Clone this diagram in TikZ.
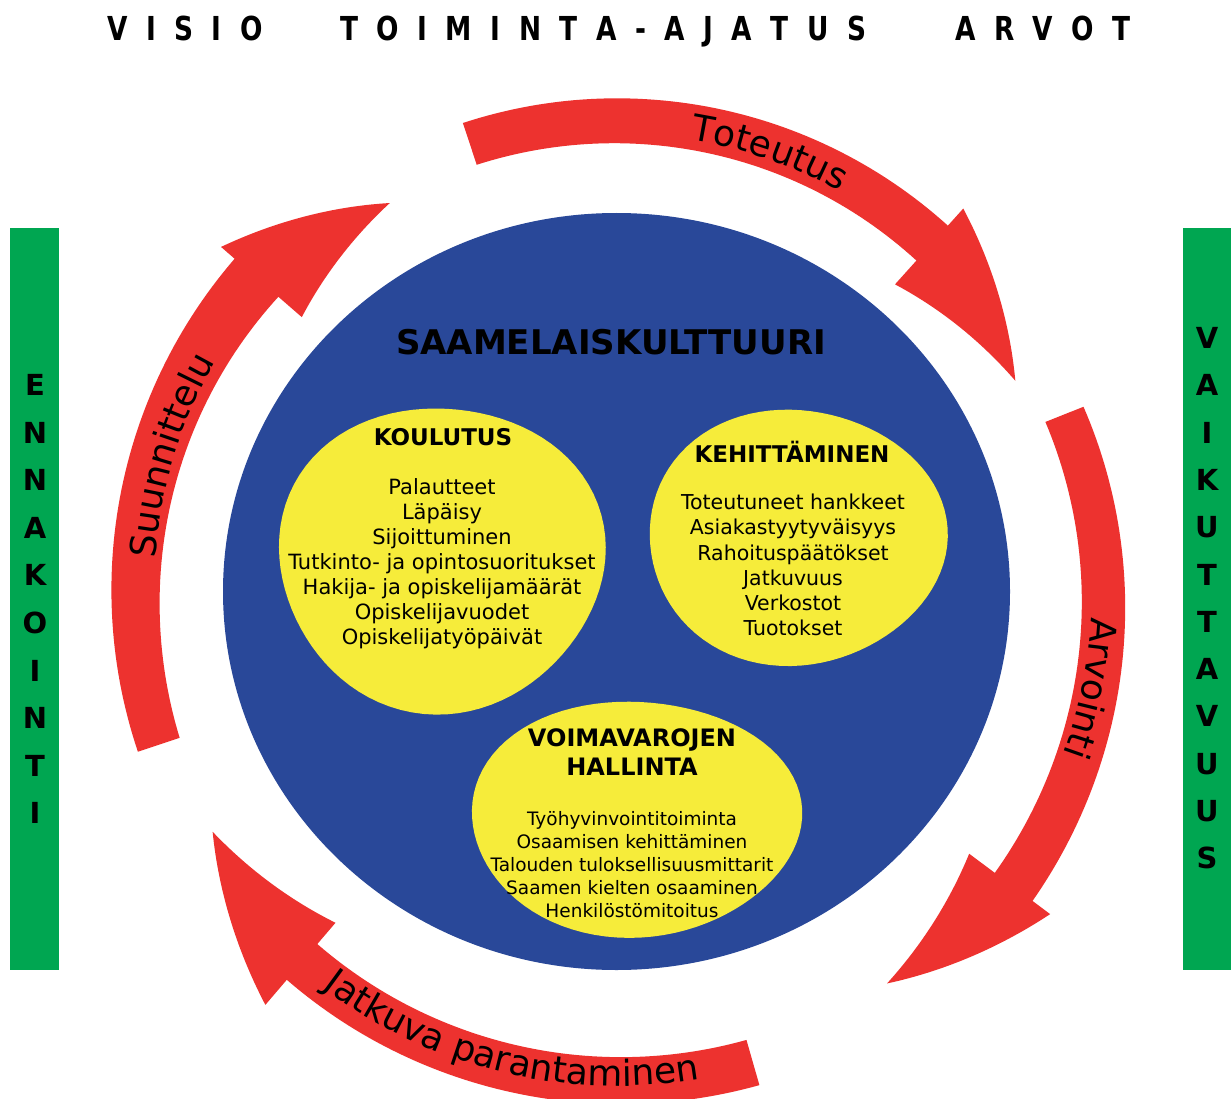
\documentclass[tikz,border=0pt]{standalone}
\usepackage{fontspec}
\setmainfont{DejaVu Sans}
\newfontfamily\narrowfont[FakeStretch=0.8]{DejaVu Sans}
\usetikzlibrary{decorations.text}

\definecolor{ringred}{RGB}{237,50,47}
\definecolor{coreblue}{RGB}{41,72,153}
\definecolor{blobyellow}{RGB}{246,236,58}
\definecolor{bargreen}{RGB}{0,166,81}

\newcommand\fsz[2]{\fontsize{#1}{#2}\selectfont}
\newcommand\arcfont{\fontsize{36}{36}\selectfont}

% letters of a word separated by a fixed gap
\makeatletter
\newcommand\spreadword[2]{\@tfor\sw@c:=#2\do{\sw@c\hspace{#1}}\unskip}
\makeatother

\tikzset{
  headtext/.style={inner sep=0pt, align=center, font=\bfseries\fsz{23}{29}},
  itemtext/.style={inner sep=0pt, align=center},
  sideletter/.style={inner sep=0pt, font=\bfseries\fsz{29}{29}},
  toptext/.style={inner sep=0pt, anchor=base west, font=\narrowfont\bfseries\fsz{33}{33}},
  arclabel/.style={decorate, decoration={text along path, text align=center, text={|\arcfont|#1}}}
}

% slightly irregular oval: centre x, centre y, x radius, y radius, wobble, phase
\newcommand\blob[6]{%
  \fill[blobyellow] plot[domain=0:356, samples=90, variable=\t]
    ({#1+#3*(1+#5*sin(3*\t+#6))*cos(\t)}, {#2+#4*(1+#5*sin(3*\t+#6))*sin(\t)}) -- cycle;}

\begin{document}
\begin{tikzpicture}[x=1pt,y=1pt]
\useasboundingbox (0,0) rectangle (1231,-1099);
\fill[white] (0,0) rectangle (1231,-1099);

% heading line
\node[toptext] (visio) at (107,-41) {\spreadword{18.5pt}{VISIO}};
\node[toptext] (toiminta) at (340,-41) {\spreadword{18.5pt}{TOIMINTA-AJATUS}};
\node[toptext] (arvot) at (955,-41) {\spreadword{18.5pt}{ARVOT}};

% side bars
\fill[bargreen] (10,-228) rectangle (59,-970);
\fill[bargreen] (1183,-228) rectangle (1231,-970);
\foreach \c [count=\i from 0] in {E,N,N,A,K,O,I,N,T,I}
  \node[sideletter] (ennak\i) at (35,{-385-47.6*\i}) {\c};
\foreach \c [count=\i from 0] in {V,A,I,K,U,T,T,A,V,U,U,S}
  \node[sideletter] (vaik\i) at (1207,{-338-47.3*\i}) {\c};

% core disc
\fill[coreblue] (616.5,-591.5) ellipse [x radius=393.5, y radius=378.5];

% yellow areas
\blob{441}{-558}{163}{153}{0.025}{20}
\blob{796}{-537}{149}{128}{0.02}{70}
\blob{635}{-818}{165}{118}{0.02}{40}

% cycle arrows: tail angle, head angle, tip angle, shaft radii at tail and head, barb radii, tip radius
\foreach \aa/\ab/\ac/\ria/\roa/\rib/\rob/\bi/\bo/\rt in {
    108.3/48/28/450/494/446/493/414/516/450,
    21.7/-36.7/-55.5/460/501/470/517/438/539/475,
    -74/-130.5/-149.4/466/513/463/510/435/543/471,
    198.4/139/120.4/462/506/450/508/419/526/451}{
  \fill[ringred]
    plot[domain=\aa:\ab, samples=60, variable=\t]
      ({618+(\roa+(\rob-(\roa))*(\t-(\aa))/(\ab-(\aa)))*cos(\t)},
       {-592+(\roa+(\rob-(\roa))*(\t-(\aa))/(\ab-(\aa)))*sin(\t)})
    -- plot[domain=\ab:\ac, samples=30, variable=\t]
      ({618+(\bo+(\rt-(\bo))*(\t-(\ab))/(\ac-(\ab)))*cos(\t)},
       {-592+(\bo+(\rt-(\bo))*(\t-(\ab))/(\ac-(\ab)))*sin(\t)})
    -- plot[domain=\ac:\ab, samples=30, variable=\t]
      ({618+(\rt+(\bi-(\rt))*(\t-(\ac))/(\ab-(\ac)))*cos(\t)},
       {-592+(\rt+(\bi-(\rt))*(\t-(\ac))/(\ab-(\ac)))*sin(\t)})
    -- plot[domain=\ab:\aa, samples=60, variable=\t]
      ({618+(\rib+(\ria-(\rib))*(\t-(\ab))/(\aa-(\ab)))*cos(\t)},
       {-592+(\rib+(\ria-(\rib))*(\t-(\ab))/(\aa-(\ab)))*sin(\t)})
    -- cycle;
}

% arrow labels
\path[arclabel=Toteutus] ([shift={(618,-592)}]106:458) arc[start angle=106, end angle=36, radius=458];
\path[arclabel=Arvointi] ([shift={(618,-592)}]25:474) arc[start angle=25, end angle=-48, radius=474];
\path[arclabel=Jatkuva parantaminen] ([shift={(618,-592)}]-143.6:494) arc[start angle=-143.6, end angle=-63.6, radius=494];
\path[arclabel=Suunnittelu] ([shift={(618,-592)}]198:464) arc[start angle=198, end angle=128, radius=464];

% texts on the disc
\node[inner sep=0pt, font=\bfseries\fsz{34}{34}] (core) at (611,-342) {SAAMELAISKULTTUURI};

\node[headtext] (koulutus) at (443,-437) {KOULUTUS};
\node[itemtext, font=\fsz{21}{25}] (koulutuslist) at (442,-564)
  {Palautteet\\Läpäisy\\Sijoittuminen\\Tutkinto- ja opintosuoritukset\\Hakija- ja opiskelijamäärät\\Opiskelijavuodet\\Opiskelijatyöpäivät};

\node[headtext] (kehitys) at (792,-452) {KEHITTÄMINEN};
\node[itemtext, font=\fsz{20.5}{25.2}] (kehityslist) at (793,-565)
  {Toteutuneet hankkeet\\Asiakastyytyväisyys\\Rahoituspäätökset\\Jatkuvuus\\Verkostot\\Tuotokset};

\node[headtext, font=\bfseries\fsz{24}{29}] (voimavarat) at (632,-752) {VOIMAVAROJEN\\HALLINTA};
\node[itemtext, font=\fsz{18.5}{23}] (voimavaralist) at (632,-864.5)
  {Työhyvinvointitoiminta\\Osaamisen kehittäminen\\Talouden tuloksellisuusmittarit\\Saamen kielten osaaminen\\Henkilöstömitoitus};
\end{tikzpicture}
\end{document}
